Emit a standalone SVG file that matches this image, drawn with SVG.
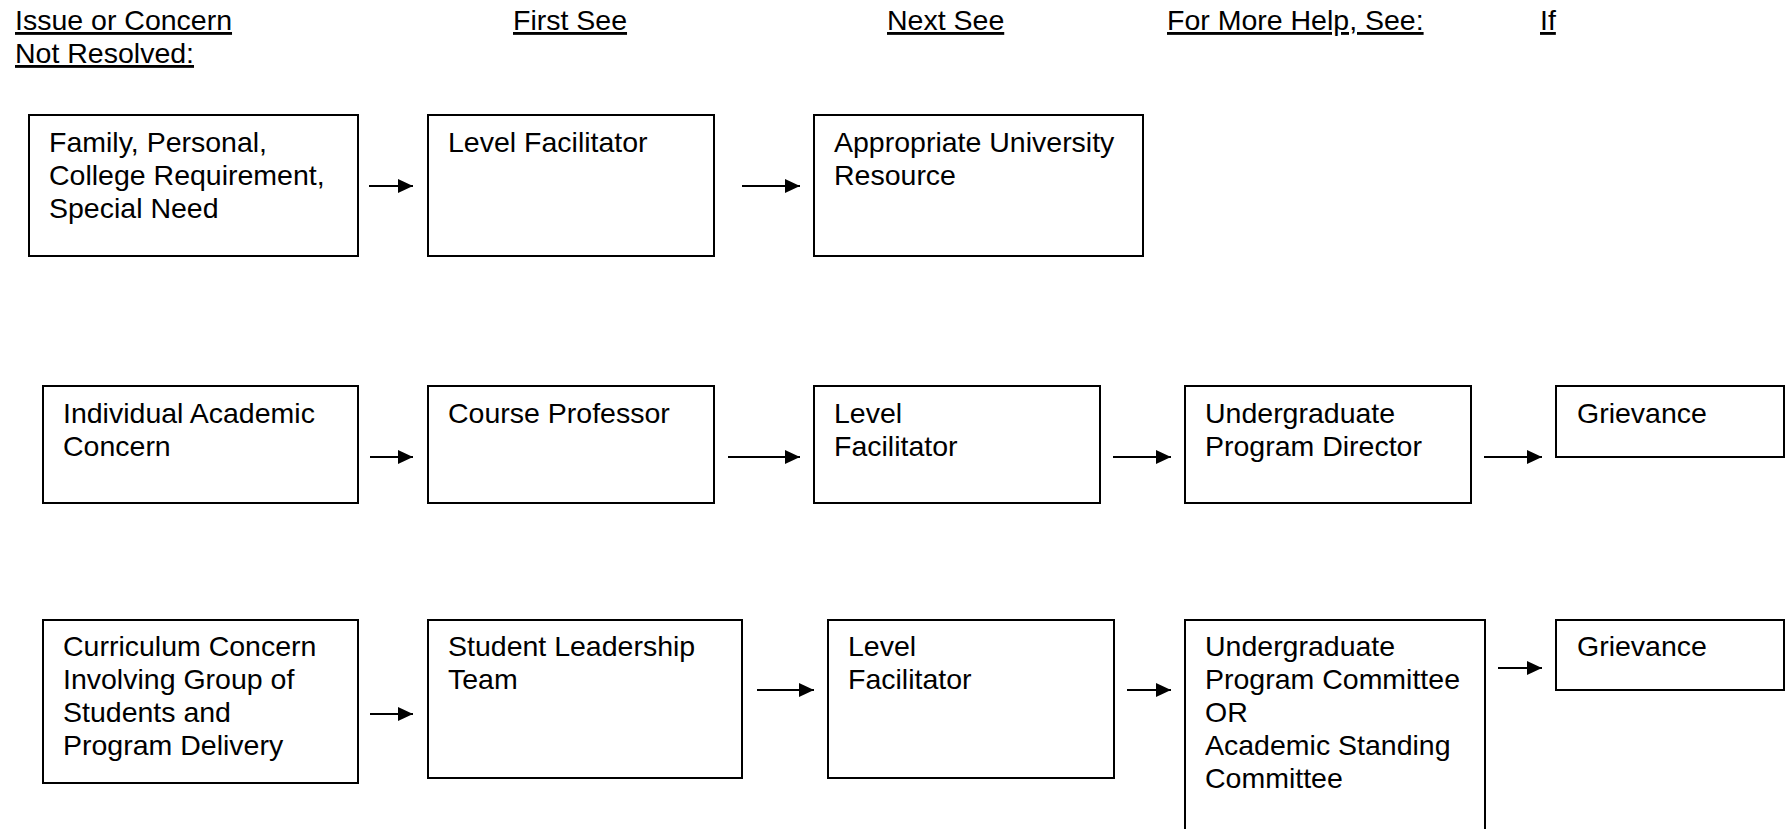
<svg xmlns="http://www.w3.org/2000/svg" width="1785" height="829" viewBox="0 0 1785 829">
<style>
text{font-family:"Liberation Sans",Arial,sans-serif;font-size:28.5px;fill:#000}
.h{text-decoration:underline;text-decoration-thickness:2.5px;text-underline-offset:3px}
.box{fill:#fff;stroke:#000;stroke-width:2}
.c line{stroke:#000;stroke-width:2}
</style>
<defs>
<marker id="ah" markerUnits="userSpaceOnUse" markerWidth="15" markerHeight="14" refX="15" refY="7" orient="auto">
<path d="M0,0 L15,7 L0,14 z" fill="#000"/>
</marker>
</defs>
<rect width="1785" height="829" fill="#fff"/>
<g id="headers">
<text class="h" x="15" y="30">Issue or Concern</text>
<text class="h" x="15" y="63">Not Resolved:</text>
<text class="h" x="513" y="30">First See</text>
<text class="h" x="887" y="30">Next See</text>
<text class="h" x="1167" y="30">For More Help, See:</text>
<text class="h" x="1540" y="30">If</text>
</g>
<g id="n1a"><rect class="box" x="29" y="115" width="329" height="141"/>
<text x="49" y="152">Family, Personal,</text><text x="49" y="185">College Requirement,</text><text x="49" y="218">Special Need</text></g>
<g id="n1b"><rect class="box" x="428" y="115" width="286" height="141"/>
<text x="448" y="152">Level Facilitator</text></g>
<g id="n1c"><rect class="box" x="814" y="115" width="329" height="141"/>
<text x="834" y="152">Appropriate University</text><text x="834" y="185">Resource</text></g>
<g id="n2a"><rect class="box" x="43" y="386" width="315" height="117"/>
<text x="63" y="423">Individual Academic</text><text x="63" y="456">Concern</text></g>
<g id="n2b"><rect class="box" x="428" y="386" width="286" height="117"/>
<text x="448" y="423">Course Professor</text></g>
<g id="n2c"><rect class="box" x="814" y="386" width="286" height="117"/>
<text x="834" y="423">Level</text><text x="834" y="456">Facilitator</text></g>
<g id="n2d"><rect class="box" x="1185" y="386" width="286" height="117"/>
<text x="1205" y="423">Undergraduate</text><text x="1205" y="456">Program Director</text></g>
<g id="n2e"><rect class="box" x="1556" y="386" width="228" height="71"/>
<text x="1577" y="423">Grievance</text></g>
<g id="n3a"><rect class="box" x="43" y="620" width="315" height="163"/>
<text x="63" y="656">Curriculum Concern</text><text x="63" y="689">Involving Group of</text><text x="63" y="722">Students and</text><text x="63" y="755">Program Delivery</text></g>
<g id="n3b"><rect class="box" x="428" y="620" width="314" height="158"/>
<text x="448" y="656">Student Leadership</text><text x="448" y="689">Team</text></g>
<g id="n3c"><rect class="box" x="828" y="620" width="286" height="158"/>
<text x="848" y="656">Level</text><text x="848" y="689">Facilitator</text></g>
<g id="n3d"><rect class="box" x="1185" y="620" width="300" height="240"/>
<text x="1205" y="656">Undergraduate</text><text x="1205" y="689">Program Committee</text><text x="1205" y="722">OR</text><text x="1205" y="755">Academic Standing</text><text x="1205" y="788">Committee</text></g>
<g id="n3e"><rect class="box" x="1556" y="620" width="228" height="70"/>
<text x="1577" y="656">Grievance</text></g>
<g id="connectors" class="c">
<line x1="369" y1="186" x2="413" y2="186" marker-end="url(#ah)"/>
<line x1="742" y1="186" x2="800" y2="186" marker-end="url(#ah)"/>
<line x1="370" y1="457" x2="413" y2="457" marker-end="url(#ah)"/>
<line x1="728" y1="457" x2="800" y2="457" marker-end="url(#ah)"/>
<line x1="1113" y1="457" x2="1171" y2="457" marker-end="url(#ah)"/>
<line x1="1484" y1="457" x2="1542" y2="457" marker-end="url(#ah)"/>
<line x1="370" y1="714" x2="413" y2="714" marker-end="url(#ah)"/>
<line x1="757" y1="690" x2="814" y2="690" marker-end="url(#ah)"/>
<line x1="1127" y1="690" x2="1171" y2="690" marker-end="url(#ah)"/>
<line x1="1498" y1="668" x2="1542" y2="668" marker-end="url(#ah)"/>
</g>
</svg>
